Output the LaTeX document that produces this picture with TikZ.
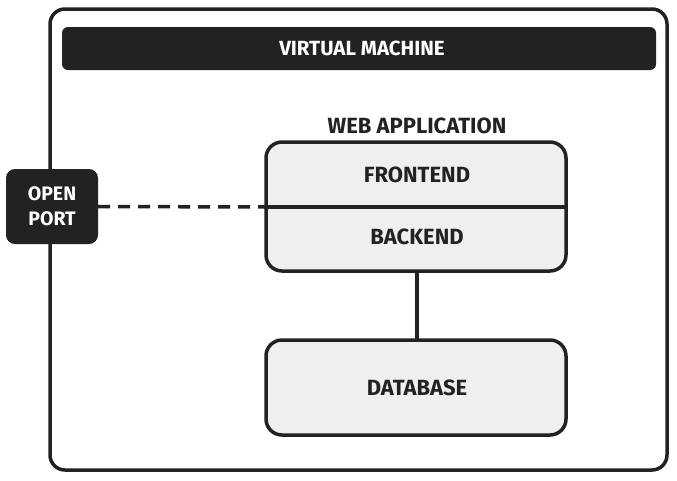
\documentclass[tikz,border=0pt]{standalone}
\usepackage{fontspec}
\setmainfont{Fira Sans}
\definecolor{ink}{HTML}{222222}
\definecolor{boxfill}{HTML}{EFEFEF}
\begin{document}
\begin{tikzpicture}[x=1pt,y=-1pt,
  line/.style={draw=ink,line width=3.5pt},
  lbl/.style={font=\bfseries\fontsize{22}{26}\selectfont,text=ink,inner sep=0pt},
  wlbl/.style={font=\bfseries\fontsize{20.5}{24}\selectfont,text=white,inner sep=0pt,align=center},
  plbl/.style={font=\bfseries\fontsize{19.5}{25}\selectfont,text=white,inner sep=0pt,align=center},
  compbox/.style={line,fill=boxfill,rounded corners=16pt}]
\useasboundingbox[fill=white] (0,0) rectangle (677,480);
% VM outer
\draw[line,rounded corners=15pt] (50,9) rectangle (667,470);
\fill[ink,rounded corners=6pt] (62,27) rectangle (656,70);
\node[wlbl] (vm) at (362,48.5) {VIRTUAL MACHINE};
% web application
\node[lbl] (wa) at (417,126) {WEB APPLICATION};
\draw[compbox] (266,142) rectangle (566,271);
\coordinate (wl) at (266,207);
\coordinate (wr) at (566,207);
\draw[line] (wl) -- (wr);
\node[lbl] (fe) at (417,175) {FRONTEND};
\node[lbl] (be) at (417,237) {BACKEND};
\coordinate (wb) at (417,271);
% database
\draw[compbox] (266,340) rectangle (566,435);
\coordinate (dt) at (417,340);
\node[lbl] (db) at (417,388) {DATABASE};
\draw[line] (wb) -- (dt);
% open port
\node[fill=ink,rounded corners=9pt,minimum width=92pt,minimum height=75pt,inner sep=0pt] (op) at (52,206.5) {};
\node[plbl] (opt) at (52,206.5) {OPEN\\PORT};
\draw[line,dash pattern=on 12pt off 8pt] (op.east) -- (wl);
\end{tikzpicture}
\end{document}
